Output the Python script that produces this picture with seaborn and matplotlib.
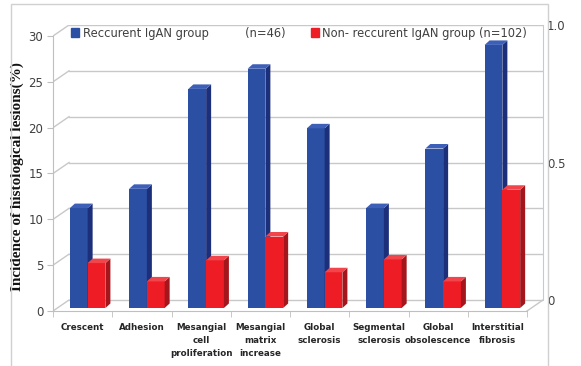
"""3D-style grouped bar chart: incidence of histological lesions by IgAN group."""
import matplotlib
matplotlib.use("Agg")
import matplotlib.pyplot as plt
from matplotlib.patches import Polygon, Rectangle, Patch
import pandas as pd
import seaborn as sns

lesions = ["Crescent", "Adhesion", "Mesangial\ncell\nproliferation",
           "Mesangial\nmatrix\nincrease", "Global\nsclerosis", "Segmental\nsclerosis",
           "Global\nobsolescence", "Interstitial\nfibrosis"]
recurrent = [10.9, 13.0, 23.9, 26.1, 19.6, 10.9, 17.4, 28.7]
non_recurrent = [4.9, 2.9, 5.2, 7.8, 3.9, 5.3, 2.9, 12.9]
groups = ["Reccurent IgAN group", "Non- reccurent IgAN group"]
legend_labels = ["Reccurent IgAN group          (n=46)", "Non- reccurent IgAN group (n=102)"]
y_ticks = [0, 5, 10, 15, 20, 25, 30]
right_ticks = [0, 0.5, 1.0]
right_labels = ["0", "0.5", "1.0"]

W, H = 581, 366
BLUE, BLUE_SIDE, BLUE_TOP = "#2b4fa3", "#1c2f7a", "#3d5fb8"
RED, RED_SIDE, RED_TOP = "#ee1c25", "#a5161c", "#f2454b"
GRID = "#c8c8c8"
TXT = "#404040"

df = pd.DataFrame({
    "lesion": lesions * 2,
    "value": recurrent + non_recurrent,
    "group": [groups[0]] * len(lesions) + [groups[1]] * len(lesions),
})

fig = plt.figure(figsize=(W / 100, H / 100), dpi=100)
ax = fig.add_axes([53 / W, (H - 311) / H, (543 - 53) / W, (311 - 25) / H])

sns.barplot(data=df, x="lesion", y="value", hue="group", palette=[BLUE, RED],
            width=0.6, saturation=1, ax=ax, legend=False)

# back-wall offset of the 3D box
x_min, x_max = -0.5, 7.5
ax.set_xlim(x_min, x_max + 16 / 59.25)
ax.set_ylim(0, 31.2)
fig.canvas.draw()
(x0, y0), (x1, y1) = ax.transData.transform([(0, 0), (1, 1)])
ux, uy = 1 / (x1 - x0), 1 / (y1 - y0)   # data units per pixel
gdx, gdy = 16 * ux, 11 * uy
for v in y_ticks:
    ax.plot([x_min + gdx, x_max + gdx], [v + gdy, v + gdy], color=GRID, lw=1, zorder=0.5)
    ax.plot([x_min, x_min + gdx], [v, v + gdy], color=GRID, lw=1, zorder=0.5)
ax.plot([x_max, x_max + gdx], [0, gdy], color=GRID, lw=1, zorder=0.5)

# extrude each bar
bx, by = 5 * ux, 3 * uy
dx, dy = 5 * ux, 4.5 * uy
n = len(lesions)
for i, p in enumerate(ax.patches):
    side_c, top_c = (BLUE_SIDE, BLUE_TOP) if i < n else (RED_SIDE, RED_TOP)
    z = 2 if i < n else 3
    x, w, h = p.get_x() + bx, p.get_width(), p.get_height()
    p.set_x(x)
    p.set_y(by)
    p.set_zorder(z)
    ax.add_patch(Polygon([(x + w, by), (x + w + dx, by + dy), (x + w + dx, by + h + dy),
                          (x + w, by + h)], closed=True, color=side_c, lw=0, zorder=z))
    ax.add_patch(Polygon([(x, by + h), (x + w, by + h), (x + w + dx, by + h + dy),
                          (x + dx, by + h + dy)], closed=True, color=top_c, lw=0, zorder=z))

for s in ["top", "right"]:
    ax.spines[s].set_visible(False)
ax.spines["left"].set_bounds(0, 30)
ax.spines["bottom"].set_bounds(x_min, x_max)
for s in ["left", "bottom"]:
    ax.spines[s].set_color("#bfbfbf")

ax.set_yticks(y_ticks)
ax.tick_params(axis="y", length=4, color="#bfbfbf", labelsize=8.5, labelcolor=TXT, pad=3)
ax.set_xticks(range(n))
ax.set_xticklabels(lesions, fontsize=6.3, fontweight="bold", color="#262626", linespacing=1.5)
ax.set_xticks([x_min + k for k in range(n + 1)], minor=True)
ax.tick_params(axis="x", which="major", length=0, pad=9)
ax.tick_params(axis="x", which="minor", length=4, color="#bfbfbf")
ax.set_xlabel("")
ax.set_ylabel("Incidence of histological lesions(%)", family="Liberation Serif",
              fontweight="bold", fontsize=11, color="#111111")
ax.yaxis.set_label_coords(-0.06, 0.47)

# right-hand secondary axis
ax2 = ax.twinx()
ax2.set_ylim(-gdy / 30, (31.2 - gdy) / 30)
ax2.set_yticks(right_ticks)
ax2.set_yticklabels(right_labels)
ax2.tick_params(axis="y", length=0, labelsize=8.5, labelcolor=TXT, pad=3)
for s in ["top", "left", "bottom"]:
    ax2.spines[s].set_visible(False)
ax2.spines["right"].set_bounds(0, 1)
ax2.spines["right"].set_color("#b8cce4")

handles = [Patch(color=BLUE), Patch(color=RED)]
fig.legend(handles, legend_labels, ncol=2, loc="center left",
           bbox_to_anchor=(71 / W, 1 - 33 / H), frameon=False, fontsize=8.3,
           handlelength=0.7, handleheight=0.7, handletextpad=0.3, columnspacing=2.2,
           borderpad=0, borderaxespad=0, labelcolor=TXT)

fig.add_artist(Rectangle((11 / W, -0.05), 537 / W, 1.05 - 4 / H, transform=fig.transFigure,
                         fill=False, edgecolor="#d0d0d0", lw=1))

fig.savefig("out.png", dpi=100)
